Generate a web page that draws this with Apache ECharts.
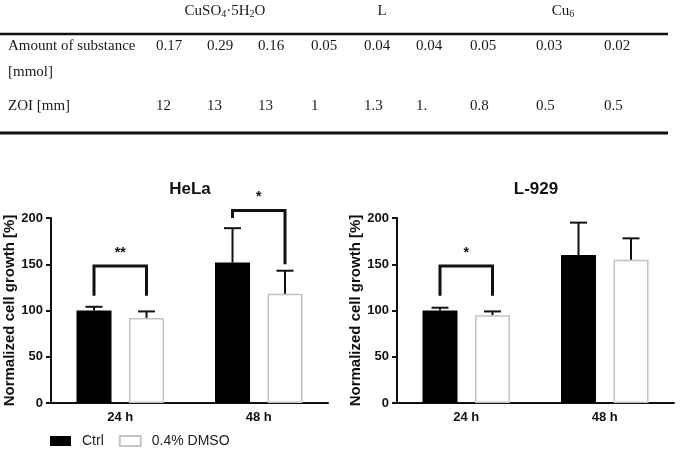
<!DOCTYPE html>
<html>
<head>
<meta charset="utf-8">
<script src="https://cdn.jsdelivr.net/npm/echarts@6/dist/echarts.min.js"></script>
<style>
  html, body { margin: 0; padding: 0; background: #fff; }
  #chart { width: 681px; height: 450px; }
</style>
</head>
<body>
<div id="chart"></div>
<script>
// ── Table data ─────────────────────────────────────────────────────────
const tableHeaders = ["CuSO{s|4}·5H{s|2}O", "L", "Cu{s|6}"];
const rowLabels = ["Amount of substance", "[mmol]", "ZOI [mm]"];
const amountValues = ["0.17", "0.29", "0.16", "0.05", "0.04", "0.04", "0.05", "0.03", "0.02"];
const zoiValues = ["12", "13", "13", "1", "1.3", "1.", "0.8", "0.5", "0.5"];

// ── Chart data ─────────────────────────────────────────────────────────
const categories = ["24 h", "48 h"];
const seriesNames = ["Ctrl", "0.4% DMSO"];
const helaCtrl = [100, 152];
const helaCtrlSd = [4, 37];
const helaDmso = [92, 118];
const helaDmsoSd = [7, 25];
const l929Ctrl = [100, 160];
const l929CtrlSd = [3, 35];
const l929Dmso = [95, 155];
const l929DmsoSd = [4, 23];
// significance brackets: category, bar line level, left leg end, right leg end
const helaBrackets = [[0, 148, 116, 116], [1, 208, 200, 150]];
const helaMarks = ["**", "*"];
const l929Brackets = [[0, 148, 116, 116]];
const l929Marks = ["*"];

// ── Layout ─────────────────────────────────────────────────────────────
const SANS = "'Liberation Sans', Arial, sans-serif";
const SERIF = "'Liberation Serif', 'Times New Roman', serif";
const BAR_W = 35;
const BAR_GAP = 0.5;
const OFFSET = (BAR_W * (1 + BAR_GAP)) / 2;
const colX = [156, 207, 258, 311, 364, 416, 470, 536, 604];
const headerX = [225, 382, 563];
const rowY = [46, 72, 106];

const tableGraphics = [];
tableHeaders.forEach((h, i) => {
  tableGraphics.push({
    type: "text", x: headerX[i], y: 11,
    style: {
      text: h, fontFamily: SERIF, fontSize: 15, fill: "#1a1a1a",
      align: "center", verticalAlign: "middle",
      rich: { s: { fontFamily: SERIF, fontSize: 10, fill: "#1a1a1a", verticalAlign: "bottom", padding: [6, 0, 0, 0] } },
    },
  });
});
rowLabels.forEach((t, i) => {
  tableGraphics.push({
    type: "text", x: 8, y: rowY[i],
    style: { text: t, fontFamily: SERIF, fontSize: 15, fill: "#1a1a1a", align: "left", verticalAlign: "middle" },
  });
});
[amountValues, zoiValues].forEach((vals, r) => {
  vals.forEach((v, i) => {
    tableGraphics.push({
      type: "text", x: colX[i], y: r === 0 ? rowY[0] : rowY[2],
      style: { text: v, fontFamily: SERIF, fontSize: 15, fill: "#1a1a1a", align: "left", verticalAlign: "middle" },
    });
  });
});
tableGraphics.push(
  { type: "line", shape: { x1: 0, y1: 34, x2: 668, y2: 34 }, style: { stroke: "#111", lineWidth: 2.5 } },
  { type: "line", shape: { x1: 0, y1: 133, x2: 668, y2: 133 }, style: { stroke: "#111", lineWidth: 3 } },
);

// ── Custom renderers ───────────────────────────────────────────────────
function errorBars(offset) {
  return function (params, api) {
    const base = api.coord([api.value(0), api.value(1)]);
    const top = api.coord([api.value(0), api.value(1) + api.value(2)]);
    const cx = base[0] + offset;
    const st = { stroke: "#111", lineWidth: 2 };
    return {
      type: "group",
      children: [
        { type: "line", shape: { x1: cx, y1: base[1], x2: cx, y2: top[1] }, style: st },
        { type: "line", shape: { x1: cx - 8.5, y1: top[1], x2: cx + 8.5, y2: top[1] }, style: st },
      ],
    };
  };
}

function brackets(marks) {
  return function (params, api) {
    const top = api.coord([api.value(0), api.value(1)]);
    const l = api.coord([api.value(0), api.value(2)]);
    const r = api.coord([api.value(0), api.value(3)]);
    const xl = top[0] - OFFSET;
    const xr = top[0] + OFFSET;
    return {
      type: "group",
      children: [
        {
          type: "polyline",
          shape: { points: [[xl, l[1]], [xl, top[1]], [xr, top[1]], [xr, r[1]]] },
          style: { stroke: "#111", lineWidth: 3, fill: null },
        },
        {
          type: "text", x: top[0], y: top[1] - 13,
          style: { text: marks[params.dataIndex], fontFamily: SANS, fontWeight: "bold", fontSize: 14, fill: "#111", align: "center", verticalAlign: "middle" },
        },
      ],
    };
  };
}

function pairs(vals, sds) {
  return vals.map((v, i) => [i, v, sds[i]]);
}

// ── Axes ───────────────────────────────────────────────────────────────
function xAxis(grid) {
  return {
    type: "category", gridIndex: grid, data: categories,
    axisLine: { lineStyle: { color: "#111", width: 2 } },
    axisTick: { show: false },
    axisLabel: { color: "#111", fontFamily: SANS, fontWeight: "bold", fontSize: 13, margin: 8 },
  };
}
function yAxis(grid) {
  return {
    type: "value", gridIndex: grid, min: 0, max: 200, interval: 50,
    name: "Normalized cell growth [%]", nameLocation: "middle", nameGap: 34,
    nameTextStyle: { color: "#111", fontFamily: SANS, fontWeight: "bold", fontSize: 15 },
    axisLine: { show: true, lineStyle: { color: "#111", width: 2 } },
    axisTick: { show: true, length: 5, lineStyle: { color: "#111", width: 2 } },
    axisLabel: { color: "#111", fontFamily: SANS, fontWeight: "bold", fontSize: 13, margin: 8 },
    splitLine: { show: false },
  };
}

function barSeries(name, data, axis) {
  const ctrl = name === seriesNames[0];
  return {
    name, type: "bar", xAxisIndex: axis, yAxisIndex: axis, data,
    barWidth: BAR_W, barGap: "50%",
    itemStyle: ctrl
      ? { color: "#000", borderColor: "#000", borderWidth: 0 }
      : { color: "#fff", borderColor: "#c4c4c4", borderWidth: 1.5 },
    z: 2,
  };
}
function errSeries(data, axis, offset) {
  return {
    type: "custom", xAxisIndex: axis, yAxisIndex: axis, data,
    renderItem: errorBars(offset), clip: false, z: 3, silent: true,
  };
}
function bracketSeries(data, marks, axis) {
  return {
    type: "custom", xAxisIndex: axis, yAxisIndex: axis, data,
    renderItem: brackets(marks), clip: false, z: 4, silent: true,
  };
}

const chart = echarts.init(document.getElementById("chart"), null, { renderer: "canvas" });
chart.setOption({
  backgroundColor: "#fff",
  animation: false,
  title: [
    { text: "HeLa", left: 190, top: 181, textAlign: "center", padding: 0,
      textStyle: { fontFamily: SANS, fontWeight: "bold", fontSize: 17, color: "#111" } },
    { text: "L-929", left: 536, top: 181, textAlign: "center", padding: 0,
      textStyle: { fontFamily: SANS, fontWeight: "bold", fontSize: 17, color: "#111" } },
  ],
  legend: {
    data: seriesNames, left: 50, top: 434, padding: 0,
    itemWidth: 21, itemHeight: 10, itemGap: 15, icon: "rect",
    textStyle: { fontFamily: SANS, fontSize: 14, color: "#222", padding: [0, 0, 0, 6] },
  },
  graphic: tableGraphics,
  grid: [
    { left: 51, top: 218, width: 277, height: 185 },
    { left: 397, top: 218, width: 277, height: 185 },
  ],
  xAxis: [xAxis(0), xAxis(1)],
  yAxis: [yAxis(0), yAxis(1)],
  series: [
    barSeries(seriesNames[0], helaCtrl, 0),
    barSeries(seriesNames[1], helaDmso, 0),
    errSeries(pairs(helaCtrl, helaCtrlSd), 0, -OFFSET),
    errSeries(pairs(helaDmso, helaDmsoSd), 0, OFFSET),
    bracketSeries(helaBrackets, helaMarks, 0),
    barSeries(seriesNames[0], l929Ctrl, 1),
    barSeries(seriesNames[1], l929Dmso, 1),
    errSeries(pairs(l929Ctrl, l929CtrlSd), 1, -OFFSET),
    errSeries(pairs(l929Dmso, l929DmsoSd), 1, OFFSET),
    bracketSeries(l929Brackets, l929Marks, 1),
  ],
});
</script>
</body>
</html>
